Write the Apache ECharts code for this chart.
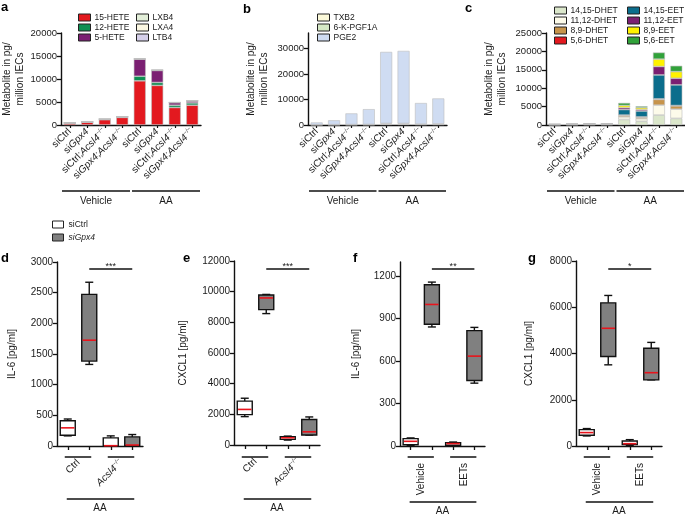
<!DOCTYPE html>
<html><head><meta charset="utf-8">
<script src="https://cdn.jsdelivr.net/npm/echarts@6/dist/echarts.min.js"></script>
<style>html,body{margin:0;padding:0;background:#fff}#c{width:685px;height:516px}</style>
</head><body><div id="c"></div>
<script>
const FONT = '"Liberation Sans", Arial, Helvetica, sans-serif';

// ---------- data ----------
const treatments = ['Vehicle', 'AA'];
const genotypes = ['siCtrl', 'siGpx4', 'siCtrl;Acsl4', 'siGpx4;Acsl4'];

// panel a (pg / million IECs)
const hete15 = [420, 600, 1150, 1650, 9600, 8600, 3800, 4300];
const hete12 = [30, 40, 60, 70, 1000, 650, 500, 500];
const hete5  = [20, 30, 50, 60, 3700, 2600, 550, 430];
const lxb4   = [10, 10, 15, 15, 60, 50, 30, 30];
const lxa4   = [10, 10, 10, 10, 40, 40, 20, 20];
const ltb4   = [10, 10, 15, 15, 60, 60, 30, 30];
// panel b
const txb2   = [60, 80, 100, 120, 350, 350, 200, 250];
const kpgf1a = [40, 50, 80, 90, 250, 250, 150, 180];
const pge2   = [900, 1720, 4370, 5990, 28000, 28400, 8250, 9970];
// panel c
const dhet1415 = [60, 80, 100, 100, 1500, 1000, 2700, 1800];
const dhet1112 = [30, 40, 50, 50, 700, 700, 2700, 2500];
const dhet89   = [20, 30, 40, 40, 400, 400, 1550, 900];
const dhet56   = [10, 10, 10, 10, 100, 100, 150, 100];
const eet1415  = [40, 60, 80, 80, 1500, 1600, 6500, 5600];
const eet1112  = [20, 30, 30, 30, 500, 400, 2300, 1800];
const eet89    = [20, 30, 40, 40, 600, 500, 2000, 1800];
const eet56    = [20, 30, 40, 40, 700, 400, 1800, 1600];

// tick labels
const ticksA = [0, 5000, 10000, 15000, 20000];
const ticksB = [0, 10000, 20000, 30000];
const ticksC = [0, 5000, 10000, 15000, 20000, 25000];
const ticksD = [0, 500, 1000, 1500, 2000, 2500, 3000];
const ticksE = [0, 2000, 4000, 6000, 8000, 10000, 12000];
const ticksF = [0, 300, 600, 900, 1200];
const ticksG = [0, 2000, 4000, 6000, 8000];

// box plots [min, q1, median, q3, max]; one row per group
const groupsDE = ['Ctrl', 'Acsl4'];
const groupsFG = ['Vehicle', 'EETs'];
const dCtrl = [[165, 175, 296, 412, 440], [0, 0, 5, 132, 165]];
const dGpx4 = [[1330, 1384, 1725, 2472, 2670], [0, 5, 16, 148, 187]];
const eCtrl = [[1850, 1980, 2320, 2860, 3050], [320, 370, 470, 540, 580]];
const eGpx4 = [[8570, 8830, 9590, 9780, 9820], [650, 650, 860, 1660, 1830]];
const fCtrl = [[5, 9, 33, 52, 57], [5, 5, 17, 24, 28]];
const fGpx4 = [[841, 860, 1000, 1139, 1158], [444, 463, 635, 815, 838]];
const gCtrl = [[435, 464, 580, 710, 754], [29, 58, 100, 217, 275]];
const gGpx4 = [[3510, 3870, 5090, 6190, 6510], [2860, 2860, 3170, 4230, 4480]];
const sigLabels = ['***', '***', '**', '*'];

// ---------- layout ----------
const grids = [
  {left: 61, top: 33, width: 140, height: 92},
  {left: 308, top: 33, width: 139, height: 92},
  {left: 546, top: 33, width: 139, height: 92},
  {left: 57, top: 262, width: 86, height: 184},
  {left: 234, top: 261, width: 86, height: 184},
  {left: 400, top: 262, width: 85, height: 184},
  {left: 576, top: 261, width: 86, height: 185}
].map(g => Object.assign({outerBoundsMode: 'none', containLabel: false}, g));

const topCats = [];
treatments.forEach(t => genotypes.forEach(g => topCats.push(t + '|' + g)));

const richTop = {
  n: {fontSize: 10, fontFamily: FONT, color: '#1a1a1a', lineHeight: 12},
  i: {fontSize: 10, fontFamily: FONT, fontStyle: 'italic', color: '#1a1a1a', lineHeight: 12},
  s: {fontSize: 6, fontFamily: FONT, color: '#1a1a1a', verticalAlign: 'top', lineHeight: 12}
};
function genoLabel(v) {
  const t = v.split('|')[1];
  const m = {
    'siCtrl': '{n|siCtrl}',
    'siGpx4': '{n|si}{i|Gpx4}',
    'siCtrl;Acsl4': '{n|siCtrl;}{i|Acsl4}{s|−/−}',
    'siGpx4;Acsl4': '{n|si}{i|Gpx4}{n|;}{i|Acsl4}{s|−/−}'
  };
  return m[t];
}
function groupLabel(v) {
  if (v === 'Acsl4') return '{i|Acsl4}{s|−/−}';
  return '{n|' + v + '}';
}
const richBot = {
  n: {fontSize: 10, fontFamily: FONT, color: '#1a1a1a', lineHeight: 12},
  i: {fontSize: 10, fontFamily: FONT, fontStyle: 'italic', color: '#1a1a1a', lineHeight: 12},
  s: {fontSize: 6, fontFamily: FONT, color: '#1a1a1a', verticalAlign: 'top', lineHeight: 12}
};

const AX = {lineStyle: {color: '#111', width: 1.4}};
const xAxes = [], yAxes = [];
for (let i = 0; i < 3; i++) {
  xAxes.push({
    type: 'category', gridIndex: i, data: topCats,
    axisLine: AX, axisTick: {show: true, alignWithLabel: true, length: 3, lineStyle: {color: '#111', width: 1.2}},
    axisLabel: {interval: 0, rotate: 45, margin: 5, formatter: genoLabel, rich: richTop}
  });
}
const botCats = ['0', '1', '2', '3'];
for (let i = 3; i < 7; i++) {
  xAxes.push({
    type: 'category', gridIndex: i, data: botCats,
    axisLine: AX, axisTick: {show: true, alignWithLabel: true, length: 4, lineStyle: {color: '#111', width: 1.3}},
    axisLabel: {show: false}
  });
}
for (let i = 3; i < 7; i++) {
  const de = i < 5;
  xAxes.push({
    type: 'category', gridIndex: i, data: de ? groupsDE : groupsFG, position: 'bottom',
    axisLine: {show: false}, axisTick: {show: false},
    axisLabel: {interval: 0, rotate: de ? 45 : 90, margin: de ? 15 : 17, formatter: groupLabel, rich: richBot}
  });
}
const topTitle = 'Metabolite in pg/\nmillion IECs';
const yDefs = [
  {max: 20000, iv: 5000, ticks: ticksA, name: topTitle, gap: 34, fs: 9.5},
  {max: 36000, iv: 10000, ticks: ticksB, name: topTitle, gap: 37, fs: 9.5},
  {max: 25000, iv: 5000, ticks: ticksC, name: topTitle, gap: 37, fs: 9.5},
  {max: 3000, iv: 500, ticks: ticksD, name: 'IL-6 [pg/ml]', gap: 38, fs: 10},
  {max: 12000, iv: 2000, ticks: ticksE, name: 'CXCL1 [pg/ml]', gap: 44, fs: 10},
  {max: 1300, iv: 100, ticks: ticksF, name: 'IL-6 [pg/ml]', gap: 37, fs: 10},
  {max: 8000, iv: 2000, ticks: ticksG, name: 'CXCL1 [pg/ml]', gap: 40, fs: 10}
];
yDefs.forEach((d, i) => {
  yAxes.push({
    type: 'value', gridIndex: i, min: 0, max: d.max, interval: d.iv,
    name: d.name, nameLocation: 'middle', nameRotate: 90, nameGap: d.gap,
    nameTextStyle: {fontSize: 10, lineHeight: 13, fontFamily: FONT, color: '#1a1a1a'},
    splitLine: {show: false},
    axisLine: Object.assign({show: true}, AX),
    axisTick: {show: true, length: 4, lineStyle: {color: '#111', width: 1.3}, customValues: d.ticks},
    axisLabel: {fontSize: d.fs, margin: 4, color: '#1a1a1a', customValues: d.ticks,
      formatter: v => d.ticks.indexOf(v) >= 0 ? String(v) : ''}
  });
});

const series = [];
function bar(name, data, color, gi, stack) {
  series.push({
    type: 'bar', name, data, stack, xAxisIndex: gi, yAxisIndex: gi, barWidth: 12,
    itemStyle: {color, borderColor: '#bdbdbd', borderWidth: 0.6}, emphasis: {disabled: true}
  });
}
bar('15-HETE', hete15, '#e3191f', 0, 'a');
bar('12-HETE', hete12, '#0d8f52', 0, 'a');
bar('5-HETE', hete5, '#7b1f72', 0, 'a');
bar('LXB4', lxb4, '#e3efd9', 0, 'a');
bar('LXA4', lxa4, '#fcf8e2', 0, 'a');
bar('LTB4', ltb4, '#d6d0ea', 0, 'a');
bar('TXB2', txb2, '#fbf9d9', 1, 'b');
bar('6-K-PGF1A', kpgf1a, '#d6e9c6', 1, 'b');
bar('PGE2', pge2, '#cfdcf2', 1, 'b');
bar('14,15-DHET', dhet1415, '#dbe7cb', 2, 'c');
bar('11,12-DHET', dhet1112, '#fdfbea', 2, 'c');
bar('8,9-DHET', dhet89, '#c7944b', 2, 'c');
bar('5,6-DHET', dhet56, '#e3191f', 2, 'c');
bar('14,15-EET', eet1415, '#0b6d8c', 2, 'c');
bar('11,12-EET', eet1112, '#7b1f72', 2, 'c');
bar('8,9-EET', eet89, '#fff200', 2, 'c');
bar('5,6-EET', eet56, '#31a23a', 2, 'c');

function boxRender(params, api) {
  const c = api.value(0);
  const v = [1, 2, 3, 4, 5].map(k => api.value(k));
  const x = api.coord([c, 0])[0];
  const y = val => api.coord([c, val])[1];
  const bw = 15, cw = 8;
  const st = {stroke: '#111', lineWidth: 1.4};
  return {type: 'group', children: [
    {type: 'line', shape: {x1: x, y1: y(v[0]), x2: x, y2: y(v[1])}, style: st},
    {type: 'line', shape: {x1: x, y1: y(v[3]), x2: x, y2: y(v[4])}, style: st},
    {type: 'line', shape: {x1: x - cw / 2, y1: y(v[0]), x2: x + cw / 2, y2: y(v[0])}, style: st},
    {type: 'line', shape: {x1: x - cw / 2, y1: y(v[4]), x2: x + cw / 2, y2: y(v[4])}, style: st},
    {type: 'rect', shape: {x: x - bw / 2, y: y(v[3]), width: bw, height: y(v[1]) - y(v[3])},
      style: {fill: api.visual('color'), stroke: '#111', lineWidth: 1.4}},
    {type: 'line', shape: {x1: x - bw / 2 + 0.8, y1: y(v[2]), x2: x + bw / 2 - 0.8, y2: y(v[2])},
      style: {stroke: '#e8141c', lineWidth: 1.6}}
  ]};
}
function boxes(name, rows, gi, offset, color) {
  series.push({
    type: 'custom', name, xAxisIndex: gi, yAxisIndex: gi, renderItem: boxRender,
    itemStyle: {color}, encode: {x: 0, y: [1, 2, 3, 4, 5]},
    data: rows.map((r, k) => [k * 2 + offset].concat(r)), emphasis: {disabled: true}
  });
}
[[dCtrl, dGpx4], [eCtrl, eGpx4], [fCtrl, fGpx4], [gCtrl, gGpx4]].forEach((p, k) => {
  boxes('siCtrl', p[0], 3 + k, 0, '#ffffff');
  boxes('siGpx4', p[1], 3 + k, 1, '#808080');
});

const legBase = {orient: 'vertical', itemGap: 1, itemWidth: 12, itemHeight: 7, icon: 'rect',
  selectedMode: false, textStyle: {fontSize: 8.5, fontFamily: FONT, color: '#1a1a1a', padding: [0, 0, 0, -1]},
  itemStyle: {borderColor: '#222', borderWidth: 1}, padding: 0};
const legends = [
  Object.assign({}, legBase, {data: ['15-HETE', '12-HETE', '5-HETE'], left: 78, top: 13}),
  Object.assign({}, legBase, {data: ['LXB4', 'LXA4', 'LTB4'], left: 136, top: 13}),
  Object.assign({}, legBase, {data: ['TXB2', '6-K-PGF1A', 'PGE2'], left: 317, top: 13}),
  Object.assign({}, legBase, {data: ['14,15-DHET', '11,12-DHET', '8,9-DHET', '5,6-DHET'], left: 554, top: 6}),
  Object.assign({}, legBase, {data: ['14,15-EET', '11,12-EET', '8,9-EET', '5,6-EET'], left: 627, top: 6}),
  Object.assign({}, legBase, {data: [{name: 'siCtrl'}, {name: 'siGpx4', textStyle: {fontStyle: 'italic'}}],
    left: 52, top: 220, itemGap: 4, itemWidth: 11, itemHeight: 7, textStyle: {fontSize: 8.5, fontFamily: FONT, color: '#1a1a1a'}})
];

const chart = echarts.init(document.getElementById('c'), null, {renderer: 'canvas'});
chart.setOption({
  animation: false,
  textStyle: {fontFamily: FONT, color: '#1a1a1a'},
  grid: grids, xAxis: xAxes, yAxis: yAxes, series, legend: legends
});

// ---------- annotations ----------
const gfx = [];
const LS = {stroke: '#111', lineWidth: 1.5};
function line(x1, y1, x2, y2) { gfx.push({type: 'line', shape: {x1, y1, x2, y2}, style: LS, silent: true}); }
function text(t, x, y, opt) {
  gfx.push({type: 'text', x, y, silent: true, style: Object.assign({text: t, fill: '#1a1a1a', fontFamily: FONT,
    fontSize: 10, align: 'center', verticalAlign: 'top'}, opt || {})});
}
function cx(xi, yi, c) { return chart.convertToPixel({xAxisIndex: xi, yAxisIndex: yi}, [c, 0])[0]; }

for (let i = 0; i < 3; i++) {
  const W = cx(i, i, 1) - cx(i, i, 0);
  for (let g = 0; g < 2; g++) {
    const a = cx(i, i, g * 4) - W / 2 + 1, b = cx(i, i, g * 4 + 3) + W / 2 - 1;
    line(a, 191, b, 191);
    text(treatments[g], (a + b) / 2, 196);
  }
}
for (let k = 0; k < 4; k++) {
  const i = 3 + k;
  const c = n => cx(i, i, n);
  for (let g = 0; g < 2; g++) line(c(2 * g) - 3, 457, c(2 * g + 1) + 2, 457);
  const yAA = k < 2 ? 499 : 502;
  line(c(0) - 1, yAA, c(3) + 2, yAA);
  text('AA', (c(0) + c(3)) / 2, yAA + 4);
  line(c(1), 269, c(3), 269);
  text(sigLabels[k], (c(1) + c(3)) / 2, 262, {fontSize: 9});
}
const letters = [['a', 1, 1], ['b', 243, 3], ['c', 465, 2], ['d', 1, 252], ['e', 183, 252], ['f', 353, 252], ['g', 528, 252]];
letters.forEach(l => text(l[0], l[1], l[2], {fontSize: 13, fontWeight: 'bold', align: 'left', fill: '#000'}));

chart.setOption({graphic: gfx});
</script>
</body></html>
